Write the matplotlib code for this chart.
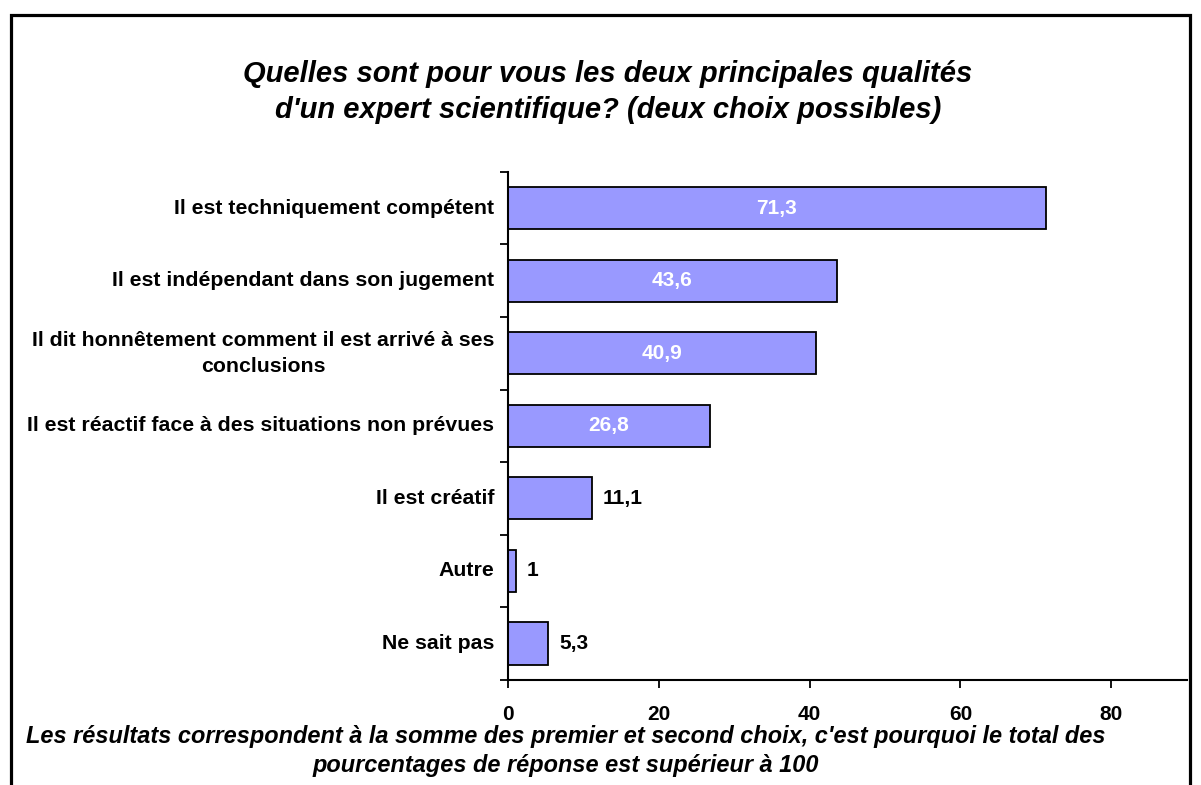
import matplotlib.pyplot as plt
import matplotlib.patches as patches

plt.rcParams['font.family'] = ['Liberation Sans', 'DejaVu Sans']

categories = [
    "Il est techniquement compétent",
    "Il est indépendant dans son jugement",
    "Il dit honnêtement comment il est arrivé à ses\nconclusions",
    "Il est réactif face à des situations non prévues",
    "Il est créatif",
    "Autre",
    "Ne sait pas",
]
values = [71.3, 43.6, 40.9, 26.8, 11.1, 1, 5.3]
x_ticks = [0, 20, 40, 60, 80]

title = ("Quelles sont pour vous les deux principales qualités\n"
         "d'un expert scientifique? (deux choix possibles)")
footnote = ("Les résultats correspondent à la somme des premier et second choix, c'est pourquoi le total des\n"
            "pourcentages de réponse est supérieur à 100")

fig = plt.figure(figsize=(12.01, 7.85), dpi=100, facecolor='white')
ax = fig.add_axes([0.423, 0.134, 0.565, 0.647])

pos = list(range(len(categories)))
bars = ax.barh(pos, values, height=0.58, color='#9999FF', edgecolor='black', linewidth=1.3)
ax.set_ylim(len(categories) - 0.5, -0.5)
ax.set_xlim(0, 90)

# value labels: white inside long bars, black beside short ones
for b, v in zip(bars, values):
    txt = f"{v:g}".replace('.', ',')
    y = b.get_y() + b.get_height() / 2
    if v > 20:
        ax.text(v / 2, y, txt, ha='center', va='center', color='white',
                fontsize=15, fontweight='bold')
    else:
        ax.annotate(txt, (v, y), xytext=(8, 0), textcoords='offset points',
                    ha='left', va='center', color='black', fontsize=15, fontweight='bold')

# category labels
for p, c in zip(pos, categories):
    ax.text(-0.02, p, c, transform=ax.get_yaxis_transform(), ha='right', va='center',
            multialignment='center', fontsize=15.3, fontweight='bold', linespacing=1.5)

ax.set_yticks([p - 0.5 for p in pos] + [len(pos) - 0.5])
ax.set_yticklabels([])
ax.set_xticks(x_ticks)
ax.set_xticklabels([str(t) for t in x_ticks], fontsize=15, fontweight='bold')
ax.tick_params(axis='y', direction='out', length=6, width=1.3)
ax.tick_params(axis='x', direction='out', length=6, width=1.3, pad=12)

for s in ['top', 'right']:
    ax.spines[s].set_visible(False)
for s in ['left', 'bottom']:
    ax.spines[s].set_linewidth(1.5)

fig.text(0.506, 0.883, title, ha='center', va='center', fontsize=21,
         fontweight='bold', style='italic', linespacing=1.38)
fig.text(0.471, 0.0435, footnote, ha='center', va='center', fontsize=16.9,
         fontweight='bold', style='italic', linespacing=1.32)

# outer frame
frame = patches.Rectangle((0.0095, -0.05), 0.981, 1.031, transform=fig.transFigure,
                          fill=False, edgecolor='black', linewidth=2.3)
fig.patches.append(frame)

fig.savefig('out.png', dpi=100)
